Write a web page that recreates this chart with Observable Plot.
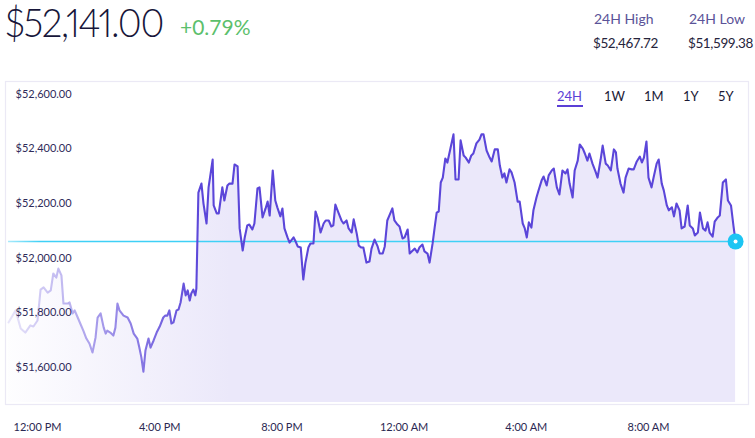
<!DOCTYPE html>
<html>
<head>
<meta charset="utf-8">
<script src="https://cdn.jsdelivr.net/npm/d3@7"></script>
<script src="https://cdn.jsdelivr.net/npm/@observablehq/plot@0.6"></script>
<style>
  html, body { margin: 0; padding: 0; background: #fff; }
  body { width: 755px; height: 438px; position: relative; overflow: hidden; font-family: Lato, "Open Sans", sans-serif; }
  .abs { position: absolute; line-height: 1; white-space: nowrap; }
  #chart { position: absolute; left: 0; top: 0; }
</style>
</head>
<body>
<div id="chart"></div>
<div class="abs" id="price" style="left:5px; top:2px; font-size:40px; font-weight:300; letter-spacing:-1.5px; font-variant-numeric:proportional-nums; color:#17163a; transform-origin:0 0;"></div>
<div class="abs" id="change" style="left:180px; top:16px; font-size:21px; color:#5cbf6c;"></div>
<div class="abs" id="hiLabel" style="left:594px; top:12px; font-size:14px; color:#5a5398;"></div>
<div class="abs" id="hiValue" style="left:593px; top:37px; font-size:13.5px; letter-spacing:-0.4px; color:#26243c;"></div>
<div class="abs" id="loLabel" style="left:689px; top:12px; font-size:14px; color:#5a5398;"></div>
<div class="abs" id="loValue" style="left:688px; top:37px; font-size:13.5px; letter-spacing:-0.4px; color:#26243c;"></div>
<div id="tabs"></div>
<script>
// ---- header values ----
const currentPrice = "$52,141.00";
const changePct = "+0.79%";
const statLabels = ["24H High", "24H Low"];
const statValues = ["$52,467.72", "$51,599.38"];
const ranges = ["24H", "1W", "1M", "1Y", "5Y"];
const activeRange = "24H";

// ---- series: minutes after 11:00 AM, price in USD ----
const minutes = [3,17,27,36,46,52,60,66,72,80,86,91,97,101,107,111,119,123,129,133,139,144,150,156,162,168,174,178,184,190,194,197,203,209,213,217,221,229,237,243,249,256,260,264,268,272,278,282,288,294,300,307,311,315,319,323,327,333,337,341,347,351,355,359,362,366,370,372,376,382,386,392,396,404,406,412,416,423,427,433,437,443,447,453,457,463,467,472,476,482,486,492,496,502,508,512,516,522,527,531,537,541,545,551,555,563,567,571,577,582,586,592,596,602,606,610,616,622,626,632,637,641,645,651,657,661,667,671,677,681,687,691,696,700,706,712,716,722,728,732,738,742,747,751,757,761,767,771,777,781,787,791,797,801,806,810,816,820,826,830,836,840,844,848,852,856,861,865,871,877,881,887,891,897,901,907,912,916,922,928,932,936,942,948,952,958,964,968,973,977,981,987,991,997,1003,1007,1013,1017,1021,1025,1030,1034,1040,1044,1050,1054,1060,1064,1070,1074,1080,1085,1091,1097,1101,1105,1111,1115,1121,1125,1131,1135,1140,1144,1150,1156,1160,1166,1170,1176,1180,1186,1192,1196,1199,1205,1211,1215,1221,1227,1231,1237,1243,1247,1251,1256,1260,1266,1270,1276,1280,1286,1290,1296,1300,1306,1310,1315,1321,1325,1331,1337,1341,1347,1351,1357,1361,1367,1372,1376,1380,1386,1390,1396,1400,1406,1412,1416,1422,1427,1431];
const prices = [51765,51809,51743,51728,51754,51750,51772,51885,51893,51874,51882,51944,51929,51962,51937,51834,51834,51838,51798,51809,51783,51761,51735,51706,51688,51655,51710,51783,51798,51746,51724,51735,51728,51717,51746,51834,51809,51790,51783,51761,51724,51706,51673,51637,51585,51662,51706,51673,51699,51728,51750,51783,51790,51790,51809,51761,51765,51809,51812,51838,51907,51864,51882,51845,51871,51885,51864,51889,52240,52273,52200,52127,52259,52361,52193,52164,52164,52259,52211,52266,52273,52273,52343,52336,52109,52028,52076,52120,52123,52105,52127,52255,52259,52149,52182,52207,52156,52321,52211,52186,52153,52182,52109,52076,52057,52076,52061,52043,52039,51922,51981,52039,52054,52054,52171,52149,52094,52127,52138,52138,52116,52120,52196,52167,52138,52127,52138,52109,52094,52142,52090,52046,52039,52039,51984,51988,52035,52068,52043,52017,52017,52043,52138,52156,52182,52138,52123,52116,52072,52076,52105,52017,52028,52035,52021,52039,52050,52025,52017,51984,52054,52112,52167,52171,52277,52295,52365,52350,52401,52453,52288,52288,52431,52376,52368,52350,52376,52383,52420,52434,52453,52453,52394,52368,52354,52398,52398,52339,52295,52310,52277,52325,52314,52277,52207,52207,52127,52109,52076,52131,52112,52175,52222,52248,52284,52299,52266,52303,52321,52328,52259,52233,52321,52310,52325,52273,52222,52321,52357,52416,52401,52383,52357,52383,52346,52317,52295,52361,52412,52346,52339,52321,52398,52387,52328,52273,52240,52295,52328,52325,52325,52354,52372,52350,52368,52427,52295,52259,52295,52346,52361,52273,52248,52193,52175,52186,52153,52200,52175,52109,52116,52193,52120,52109,52083,52094,52167,52109,52101,52131,52094,52079,52134,52149,52156,52277,52288,52211,52193,52116,52061];

// ---- axes ----
const yTickValues = [51600, 51800, 52000, 52200, 52400, 52600];
const yTickLabels = ["$51,600.00", "$51,800.00", "$52,000.00", "$52,200.00", "$52,400.00", "$52,600.00"];
const xTickMinutes = [60, 300, 540, 780, 1020, 1260];
const xTickLabels = ["12:00 PM", "4:00 PM", "8:00 PM", "12:00 AM", "4:00 AM", "8:00 AM"];

// ---- header ----
const priceEl = document.getElementById("price");
priceEl.textContent = currentPrice;
document.getElementById("change").textContent = changePct;
document.getElementById("hiLabel").textContent = statLabels[0];
document.getElementById("hiValue").textContent = statValues[0];
document.getElementById("loLabel").textContent = statLabels[1];
document.getElementById("loValue").textContent = statValues[1];
// fit the headline price to the reference's tight width
const pw = priceEl.getBoundingClientRect().width;
if (pw > 0) priceEl.style.transform = `scaleX(${Math.min(1, 158 / pw)})`;

const tabLefts = [557, 604, 644, 683, 718];
const tabs = document.getElementById("tabs");
ranges.forEach((r, i) => {
  const d = document.createElement("div");
  d.className = "abs";
  d.textContent = r;
  d.style.left = tabLefts[i] + "px";
  d.style.top = "90px";
  d.style.fontSize = "13px";
  d.style.color = r === activeRange ? "#5b3fd6" : "#1b1a36";
  tabs.appendChild(d);
  if (r === activeRange) {
    const u = document.createElement("div");
    u.style.cssText = `position:absolute;left:${tabLefts[i]}px;top:105px;width:26px;height:2px;background:#5b3fd6;`;
    tabs.appendChild(u);
  }
});

// ---- chart ----
const data = minutes.map((m, i) => ({m, p: prices[i]}));
const last = data[data.length - 1];
const xDomain = [-2.85, 1456.4];
const yDomain = [51464.7, 52646.5];
const baseline = 51472;

const chart = Plot.plot({
  width: 755,
  height: 438,
  marginLeft: 5,
  marginRight: 7,
  marginTop: 81,
  marginBottom: 34,
  x: {type: "linear", domain: xDomain},
  y: {type: "linear", domain: yDomain},
  style: {fontFamily: "Lato, sans-serif", background: "transparent", overflow: "visible"},
  marks: [
    Plot.frame({stroke: "#ebe9f5", strokeWidth: 1.2}),
    Plot.areaY(data, {x: "m", y1: baseline, y2: "p", fill: "url(#areaGrad)", curve: "linear"}),
    Plot.ruleY([last.p], {x1: data[0].m, x2: last.m, stroke: "url(#cyanGrad)", strokeWidth: 1.5}),
    Plot.lineY(data, {x: "m", y: "p", stroke: "url(#lineGrad)", strokeWidth: 2.1, strokeLinejoin: "round", curve: "linear"}),
    Plot.dot([last], {x: "m", y: "p", r: 8, fill: "#1cc5f3", stroke: "none"}),
    Plot.dot([last], {x: "m", y: "p", r: 2, fill: "#ffffff", stroke: "none"}),
    Plot.axisY(yTickValues, {
      anchor: "left", tickSize: 0, tickPadding: 0, dx: 10, textAnchor: "start",
      tickFormat: d => yTickLabels[yTickValues.indexOf(d)],
      fill: "#2f2b5a", fontSize: 11, label: null
    }),
    Plot.axisX(xTickMinutes, {
      anchor: "bottom", tickSize: 0, tickPadding: 19,
      tickFormat: d => xTickLabels[xTickMinutes.indexOf(d)],
      fill: "#2b2852", fontSize: 11, label: null
    })
  ]
});

// gradients
const svg = d3.select(chart.tagName.toLowerCase() === "svg" ? chart : chart.querySelector("svg"));
const defs = svg.insert("defs", ":first-child");
const lg = defs.append("linearGradient").attr("id", "lineGrad")
  .attr("gradientUnits", "userSpaceOnUse").attr("x1", 5).attr("x2", 200).attr("y1", 0).attr("y2", 0);
lg.append("stop").attr("offset", 0).attr("stop-color", "#5b46d9").attr("stop-opacity", 0.12);
lg.append("stop").attr("offset", 0.5).attr("stop-color", "#5b46d9").attr("stop-opacity", 0.55);
lg.append("stop").attr("offset", 1).attr("stop-color", "#5b46d9").attr("stop-opacity", 1);
const ag = defs.append("linearGradient").attr("id", "areaGrad")
  .attr("gradientUnits", "userSpaceOnUse").attr("x1", 5).attr("x2", 230).attr("y1", 0).attr("y2", 0);
ag.append("stop").attr("offset", 0).attr("stop-color", "#ebe8fa").attr("stop-opacity", 0.05);
ag.append("stop").attr("offset", 1).attr("stop-color", "#ebe8fa").attr("stop-opacity", 1);
const cg = defs.append("linearGradient").attr("id", "cyanGrad")
  .attr("gradientUnits", "userSpaceOnUse").attr("x1", 5).attr("x2", 40).attr("y1", 0).attr("y2", 0);
cg.append("stop").attr("offset", 0).attr("stop-color", "#3fd0f6").attr("stop-opacity", 0.4);
cg.append("stop").attr("offset", 1).attr("stop-color", "#3fd0f6").attr("stop-opacity", 1);

document.getElementById("chart").appendChild(chart);
</script>
</body>
</html>
